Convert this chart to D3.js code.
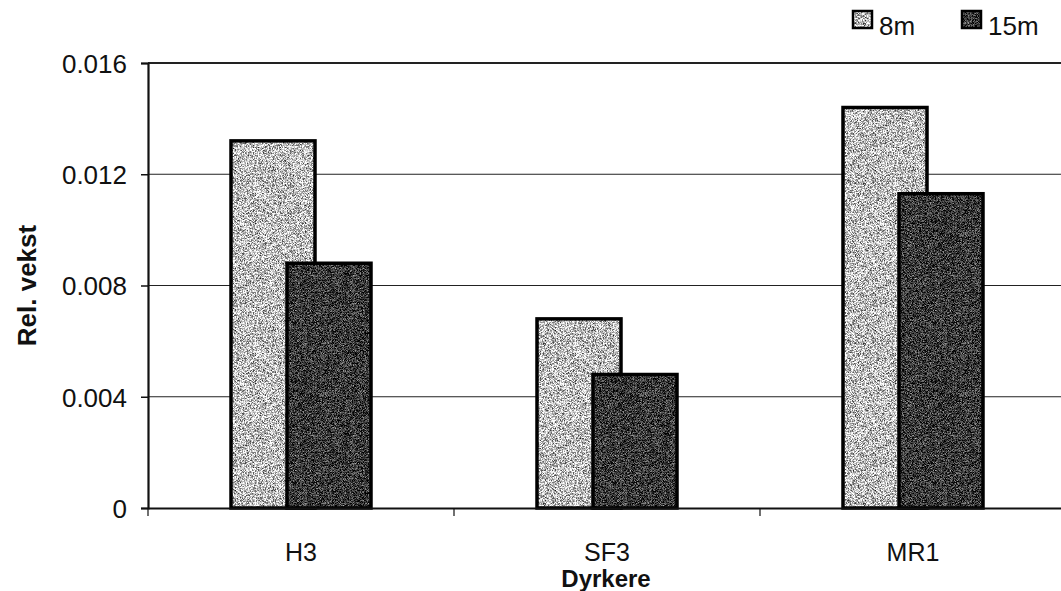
<!DOCTYPE html>
<html>
<head>
<meta charset="utf-8">
<script src="https://cdn.jsdelivr.net/npm/d3@7"></script>
<style>
  html, body { margin: 0; padding: 0; background: #fff; }
  svg { display: block; font-family: "Liberation Sans", Arial, sans-serif; }
</style>
</head>
<body>
<svg id="chart" width="1061" height="591"></svg>
<script>
// Relative growth per grower at two depths
const categories = ["H3", "SF3", "MR1"];
const seriesNames = ["8m", "15m"];
const values8m = [0.0132, 0.0068, 0.0144];
const values15m = [0.0088, 0.0048, 0.0113];
const yTicks = [0, 0.004, 0.008, 0.012, 0.016];
const yTickLabels = ["0", "0.004", "0.008", "0.012", "0.016"];

const svg = d3.select("#chart");
const margin = { left: 148, top: 63, right: -5, bottom: 83 };
const W = 1061, H = 591;
const x0 = margin.left, x1 = W - margin.right;
const yTop = margin.top, yBot = H - margin.bottom;

// stippled grey fills
const defs = svg.append("defs");
function grain(id, base, k, seed) {
  const f = defs.append("filter").attr("id", id)
    .attr("x", 0).attr("y", 0).attr("width", 1).attr("height", 1)
    .attr("color-interpolation-filters", "sRGB");
  f.append("feTurbulence").attr("type", "fractalNoise").attr("baseFrequency", 1.6)
    .attr("numOctaves", 1).attr("seed", seed).attr("result", "n");
  const o = base - k / 2;
  f.append("feColorMatrix").attr("in", "n").attr("type", "matrix")
    .attr("values", `${k} 0 0 0 ${o}  ${k} 0 0 0 ${o}  ${k} 0 0 0 ${o}  0 0 0 0 1`)
    .attr("result", "c");
  f.append("feComposite").attr("in", "c").attr("in2", "SourceGraphic").attr("operator", "in");
}
grain("stipple-light", 0.75, 2.2, 3);
grain("stipple-dark", 0.22, 1.6, 7);
const fills = ["stipple-light", "stipple-dark"];
const baseColors = ["#bfbfbf", "#383838"];

const x = d3.scaleBand().domain(categories).range([x0, x0 + 3 * 306]);
const y = d3.scaleLinear().domain([0, 0.016]).range([yBot, yTop]);

// gridlines
svg.append("g").selectAll("line").data(yTicks.slice(1)).join("line")
  .attr("x1", x0).attr("x2", x1)
  .attr("y1", d => y(d)).attr("y2", d => y(d))
  .attr("stroke", "#222").attr("stroke-width", d => d === 0.016 ? 2 : 1.1);

// y axis
const yAxis = d3.axisLeft(y).tickValues(yTicks).tickFormat((d, i) => yTickLabels[i]).tickSize(7).tickPadding(14);
const gy = svg.append("g").attr("transform", `translate(${x0},0)`).call(yAxis);
gy.attr("font-size", null).attr("font-family", null);
gy.select(".domain").attr("stroke", "#111").attr("stroke-width", 2.2);
gy.selectAll(".tick line").attr("stroke", "#111").attr("stroke-width", 1.5);
gy.selectAll(".tick text").style("font-size", "26px").attr("fill", "#111").attr("dy", "0.36em");

// bars
const bw = 84, off = 56;
const series = [values8m, values15m];
series.forEach((vals, si) => {
  const bx = c => x(c) + x.bandwidth() / 2 - (bw + off) / 2 + si * off;
  svg.append("g").selectAll("rect").data(categories).join("rect")
    .attr("x", bx)
    .attr("y", (c, i) => y(vals[i]))
    .attr("width", bw)
    .attr("height", (c, i) => yBot - y(vals[i]))
    .attr("fill", baseColors[si])
    .attr("filter", `url(#${fills[si]})`);
  svg.append("g").selectAll("rect").data(categories).join("rect")
    .attr("x", bx)
    .attr("y", (c, i) => y(vals[i]))
    .attr("width", bw)
    .attr("height", (c, i) => yBot - y(vals[i]))
    .attr("fill", "none").attr("stroke", "#000").attr("stroke-width", 3.5);
});

// x axis
const xAxis = d3.axisBottom(x).tickSize(0).tickPadding(35);
const gx = svg.append("g").attr("transform", `translate(0,${yBot})`).call(xAxis);
gx.attr("font-size", null).attr("font-family", null);
gx.select(".domain").attr("stroke", "#111").attr("stroke-width", 2.2);
gx.selectAll(".tick text").style("font-size", "25px").attr("fill", "#111");
// boundary ticks between categories
svg.append("g").selectAll("line").data(categories).join("line")
  .attr("x1", c => x(c)).attr("x2", c => x(c))
  .attr("y1", yBot).attr("y2", yBot + 8)
  .attr("stroke", "#111").attr("stroke-width", 1.2);

// axis titles
svg.append("text").attr("x", 606).attr("y", 587).attr("text-anchor", "middle")
  .style("font-size", "24px").attr("font-weight", "bold").attr("fill", "#111").text("Dyrkere");
svg.append("text").attr("transform", `translate(36,${(yTop + yBot) / 2}) rotate(-90)`)
  .attr("text-anchor", "middle").style("font-size", "26px").attr("font-weight", "bold").attr("fill", "#111").text("Rel. vekst");

// legend
const legendX = [853, 962];
seriesNames.forEach((name, i) => {
  svg.append("rect").attr("x", legendX[i]).attr("y", 11).attr("width", 19).attr("height", 17)
    .attr("fill", baseColors[i]).attr("filter", `url(#${fills[i]})`);
  svg.append("rect").attr("x", legendX[i]).attr("y", 11).attr("width", 19).attr("height", 17)
    .attr("fill", "none").attr("stroke", "#000").attr("stroke-width", 2.5);
  svg.append("text").attr("x", legendX[i] + 26).attr("y", 35).style("font-size", "26px").attr("fill", "#111").text(name);
});
</script>
</body>
</html>
